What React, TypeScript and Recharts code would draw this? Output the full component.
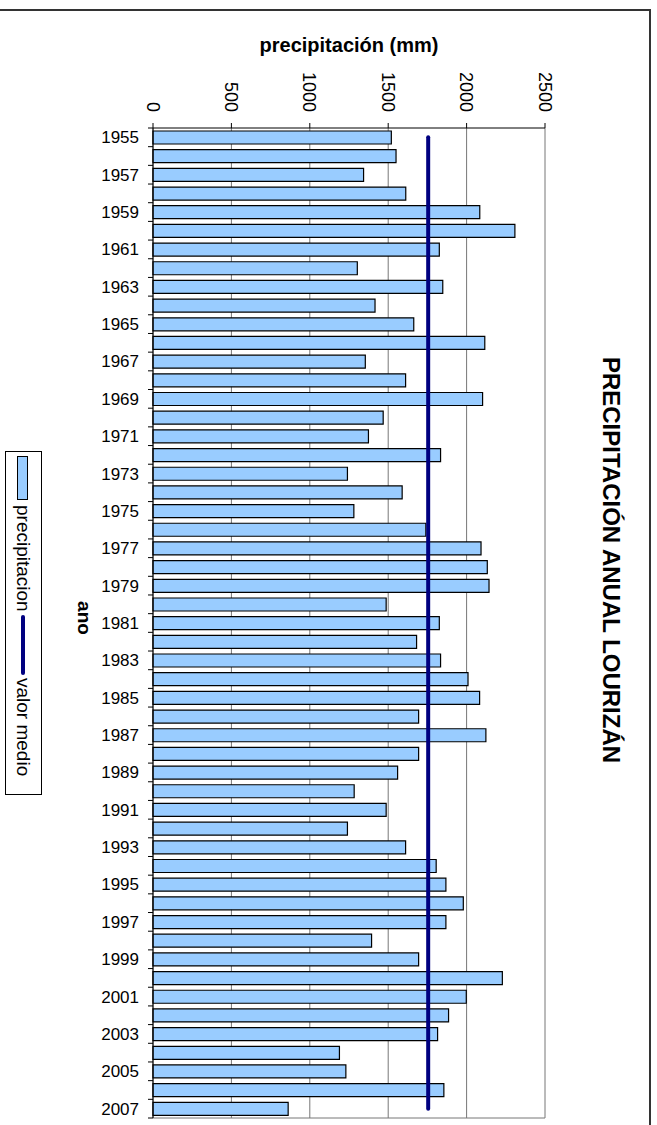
import React from "react";
import {
  Bar,
  CartesianGrid,
  ComposedChart,
  Line,
  XAxis,
  YAxis,
} from "recharts";

// años 1955-2007
const ANOS = [
  "1955", "1956", "1957", "1958", "1959", "1960", "1961", "1962", "1963", "1964",
  "1965", "1966", "1967", "1968", "1969", "1970", "1971", "1972", "1973", "1974",
  "1975", "1976", "1977", "1978", "1979", "1980", "1981", "1982", "1983", "1984",
  "1985", "1986", "1987", "1988", "1989", "1990", "1991", "1992", "1993", "1994",
  "1995", "1996", "1997", "1998", "1999", "2000", "2001", "2002", "2003", "2004",
  "2005", "2006", "2007",
];

// precipitación anual (mm)
const PRECIPITACION = [
  1520, 1550, 1343, 1612, 2084, 2308, 1826, 1303, 1848, 1416,
  1663, 2116, 1354, 1611, 2102, 1468, 1374, 1834, 1240, 1589,
  1281, 1740, 2092, 2132, 2143, 1487, 1826, 1681, 1834, 2009,
  2083, 1694, 2123, 1694, 1560, 1283, 1487, 1240, 1611, 1806,
  1868, 1979, 1868, 1394, 1694, 2228, 1998, 1885, 1815, 1189,
  1230, 1855, 862,
];

const VALOR_MEDIO = 1755;

const X_TICKS = [0, 500, 1000, 1500, 2000, 2500];

const data = ANOS.map((ano, i) => ({
  ano,
  precipitacion: PRECIPITACION[i],
  medio: VALOR_MEDIO,
}));

const FONT = "'Liberation Sans', Arial, Helvetica, sans-serif";
const W = 657;
const H = 1125;
const PLOT_TOP = 128;
const PLOT_BOTTOM = 1118;
const PLOT_LEFT = 153;
const PLOT_RIGHT = 545;
const Y_AXIS_W = 60;
const X_AXIS_H = 40;
const TICK_LEN = 5;
const TICK_GAP = 9;
const BAND = (PLOT_BOTTOM - PLOT_TOP) / ANOS.length;

const BAR_FILL = "#99CCFF";
const NAVY = "#000080";

function ValueTick(props: any) {
  const { x, y, payload } = props;
  return (
    <text
      transform={`translate(${x},${y}) rotate(90)`}
      textAnchor="end"
      dy="0.35em"
      fontSize={18}
      fontFamily={FONT}
      fill="#000"
    >
      {payload.value}
    </text>
  );
}

function YearTick(props: any) {
  const { x, y, payload, index } = props;
  const half = payload && payload.offset ? payload.offset : BAND / 2;
  const axisX = x + TICK_GAP + TICK_LEN;
  return (
    <g>
      <line x1={axisX - TICK_LEN} x2={axisX} y1={y - half} y2={y - half} stroke="#000" />
      {index === ANOS.length - 1 && (
        <line x1={axisX - TICK_LEN} x2={axisX} y1={y + half} y2={y + half} stroke="#000" />
      )}
      {index % 2 === 0 && (
        <text x={x} y={y} textAnchor="end" dy="0.35em" fontSize={17} fontFamily={FONT} fill="#000">
          {payload.value}
        </text>
      )}
    </g>
  );
}

const vertical: React.CSSProperties = { writingMode: "vertical-rl", whiteSpace: "nowrap" };

export default function App() {
  return (
    <div
      style={{
        position: "absolute",
        left: 0,
        top: 0,
        width: W,
        height: H,
        background: "#fff",
        fontFamily: FONT,
        overflow: "hidden",
      }}
    >
      <ComposedChart
        width={W}
        height={H}
        data={data}
        layout="vertical"
        margin={{
          top: PLOT_TOP - X_AXIS_H,
          right: W - PLOT_RIGHT,
          bottom: H - PLOT_BOTTOM,
          left: PLOT_LEFT - Y_AXIS_W,
        }}
      >
        <CartesianGrid
          stroke="#777"
          horizontalCoordinatesGenerator={({ offset }: any) => [offset.top + offset.height]}
        />
        <XAxis
          type="number"
          orientation="top"
          domain={[0, 2500]}
          ticks={X_TICKS}
          height={X_AXIS_H}
          tickSize={5}
          tickMargin={11}
          tick={<ValueTick />}
          axisLine={{ stroke: "#000" }}
          tickLine={{ stroke: "#000" }}
        />
        <YAxis
          type="category"
          dataKey="ano"
          width={Y_AXIS_W}
          interval={0}
          tickSize={TICK_LEN}
          tickMargin={TICK_GAP}
          tick={<YearTick />}
          tickLine={false}
          axisLine={{ stroke: "#000" }}
        />
        <Bar
          dataKey="precipitacion"
          fill={BAR_FILL}
          stroke="#000"
          strokeWidth={1.2}
          barSize={13}
          isAnimationActive={false}
        />
        <Line
          dataKey="medio"
          stroke={NAVY}
          strokeWidth={4}
          strokeLinecap="round"
          dot={false}
          activeDot={false}
          isAnimationActive={false}
        />
      </ComposedChart>

      {/* marco del gráfico */}
      <div
        style={{
          position: "absolute",
          left: -2,
          top: 9,
          width: 653,
          height: H,
          borderTop: "2px solid #333",
          borderRight: "2px solid #333",
          boxSizing: "border-box",
          pointerEvents: "none",
        }}
      />

      <div
        style={{
          position: "absolute",
          left: (PLOT_LEFT + PLOT_RIGHT) / 2,
          top: 35,
          transform: "translateX(-50%)",
          fontSize: 20,
          fontWeight: "bold",
          lineHeight: 1,
          whiteSpace: "nowrap",
        }}
      >
        precipitación (mm)
      </div>

      <div
        style={{
          ...vertical,
          position: "absolute",
          left: 611,
          top: 560,
          transform: "translate(-50%, -50%)",
          fontSize: 24,
          fontWeight: "bold",
          lineHeight: 1,
        }}
      >
        PRECIPITACIÓN ANUAL LOURIZÁN
      </div>

      <div
        style={{
          ...vertical,
          position: "absolute",
          left: 84,
          top: 618,
          transform: "translate(-50%, -50%)",
          fontSize: 19,
          fontWeight: "bold",
          lineHeight: 1,
        }}
      >
        ano
      </div>

      {/* leyenda */}
      <div
        style={{
          position: "absolute",
          left: 5,
          top: 451,
          width: 37,
          height: 344,
          border: "1px solid #000",
          boxSizing: "border-box",
          display: "flex",
          flexDirection: "column",
          alignItems: "center",
          paddingTop: 4,
          fontSize: 19,
        }}
      >
        <div
          style={{
            width: 11,
            height: 44,
            background: BAR_FILL,
            border: "1px solid #000",
            boxSizing: "border-box",
            marginLeft: -3,
          }}
        />
        <span style={{ ...vertical, lineHeight: 1, marginTop: 5 }}>precipitacion</span>
        <div
          style={{
            width: 4,
            height: 60,
            background: NAVY,
            borderRadius: 2,
            marginTop: 3,
            marginLeft: -2,
          }}
        />
        <span style={{ ...vertical, lineHeight: 1, marginTop: 3 }}>valor medio</span>
      </div>
    </div>
  );
}
